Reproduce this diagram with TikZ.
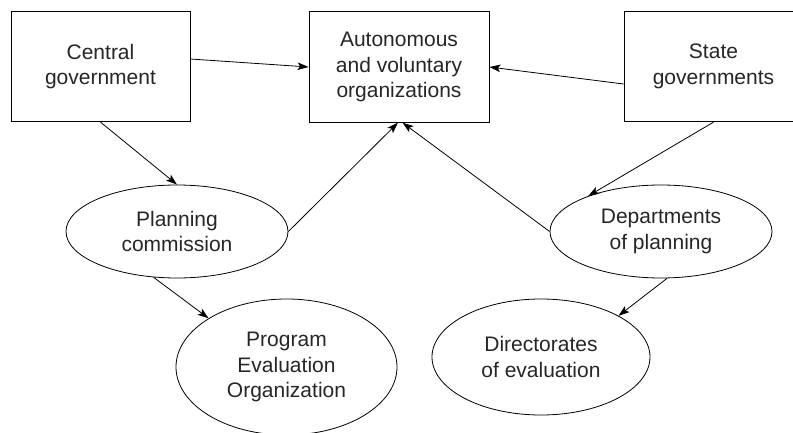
\documentclass[tikz,border=0pt]{standalone}
\usepackage{fontspec}
\setmainfont{Liberation Sans}
\usetikzlibrary{arrows.meta,shapes.geometric}
\begin{document}
\begin{tikzpicture}[x=1pt,y=-1pt,
  every node/.style={font=\fontsize{21}{25.5}\selectfont, text=black!85, align=center, inner sep=0pt},
  boxnode/.style={draw, rectangle, line width=0.8pt, minimum width=179pt, minimum height=110.5pt},
  ovalnode/.style={draw, ellipse, line width=0.8pt},
  link/.style={line width=0.8pt, -{Stealth[length=11pt,width=7.5pt,inset=2.5pt]}}
]
\useasboundingbox (0,0) rectangle (793,433);
\node[boxnode] (cg) at (100.5,66.5) {Central\\government};
\node[boxnode, minimum width=180pt] (ao) at (399,67) {Autonomous\\and voluntary\\organizations};
\node[boxnode] (sg) at (713.5,66.5) {State\\governments};
\node[ovalnode, minimum width=222pt, minimum height=93pt] (pc) at (177,231.5) {Planning\\commission};
\node[ovalnode, minimum width=222pt, minimum height=93pt] (dp) at (661,231.5) {Departments\\of planning};
\node[ovalnode, minimum width=221pt, minimum height=136pt] (peo) at (286.5,367) {Program\\Evaluation\\Organization};
\node[ovalnode, minimum width=218pt, minimum height=116pt] (de) at (541,357) {Directorates\\of evaluation};

\draw[link] ([yshift=7.5pt]cg.east) -- (ao.west);
\draw[link] ([yshift=-17.5pt]sg.west) -- (ao.east);
\draw[link] (cg.south) -- (pc.north);
\draw[link] (pc.east) -- ([xshift=-1pt]ao.south);
\draw[link] (dp.west) -- ([xshift=3.5pt]ao.south);
\draw[link] (sg.south) -- (dp.154);
\draw[link] (pc.243) -- (peo.148);
\draw[link] ([xshift=6pt]dp.south) -- (de.28);
\end{tikzpicture}
\end{document}
